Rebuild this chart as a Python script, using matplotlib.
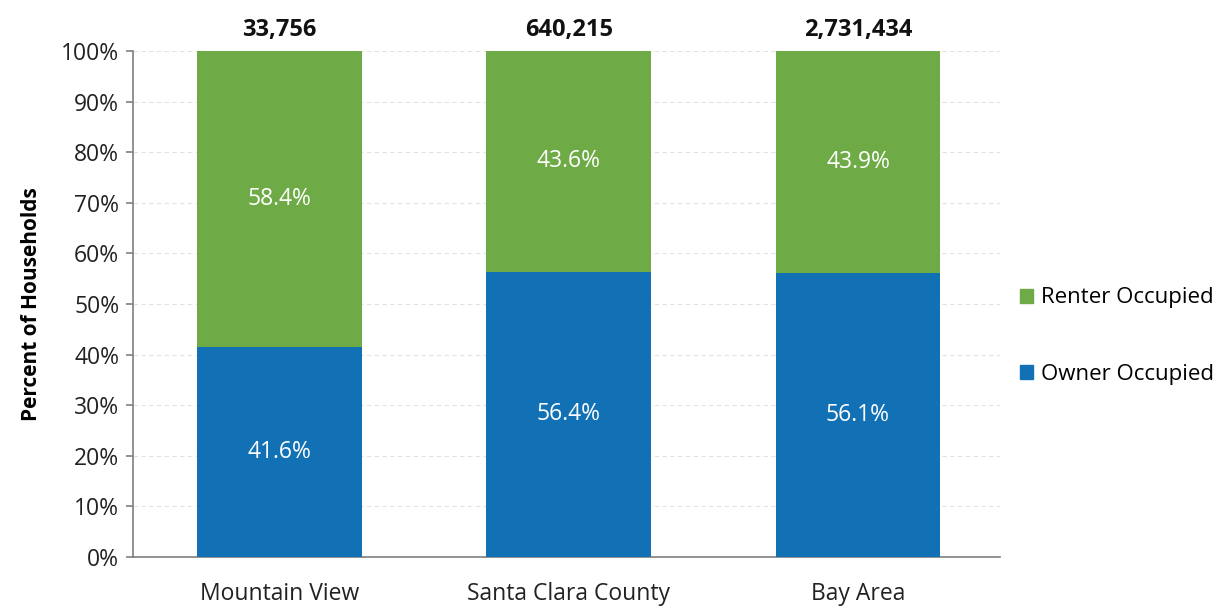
import matplotlib.pyplot as plt
from matplotlib.patches import Patch

categories = ['Mountain View', 'Santa Clara County', 'Bay Area']
owner = [41.6, 56.4, 56.1]
renter = [58.4, 43.6, 43.9]
totals = ['33,756', '640,215', '2,731,434']

BLUE = '#1271B5'
GREEN = '#6EAB46'

plt.rcParams['font.family'] = ['Open Sans', 'DejaVu Sans']

fig = plt.figure(figsize=(12.25, 6.08), dpi=100)
ax = fig.add_axes([0.1086, 0.0839, 0.7075, 0.8322])

x = range(len(categories))
ax.bar(x, owner, width=0.57, color=BLUE, zorder=3)
ax.bar(x, renter, width=0.57, bottom=owner, color=GREEN, zorder=3)

for i in x:
    ax.text(i, owner[i] / 2, '%.1f%%' % owner[i], ha='center', va='center',
            color='white', fontsize=16.5, zorder=4)
    ax.text(i, owner[i] + renter[i] / 2, '%.1f%%' % renter[i], ha='center', va='center',
            color='white', fontsize=16.5, zorder=4)
    ax.text(i, 101.8, totals[i], ha='center', va='bottom', fontsize=17,
            fontweight='bold', color='#111111')

ax.set_xlim(-0.506, 2.49)
ax.set_ylim(0, 100)
ax.set_yticks(range(0, 101, 10))
ax.set_yticklabels(['%d%%' % v for v in range(0, 101, 10)])
ax.set_xticks(list(x))
ax.set_xticklabels(categories)
ax.tick_params(axis='y', labelsize=16.5, labelcolor='#222222', color='#7f7f7f',
               length=5, width=1.2, pad=5)
ax.tick_params(axis='x', labelsize=16.5, labelcolor='#222222', length=0, pad=18)

ax.grid(axis='y', color='#e2e2e2', linestyle=(0, (4, 3)), linewidth=0.8, zorder=0)
ax.spines['top'].set_visible(False)
ax.spines['right'].set_visible(False)
ax.spines['left'].set_color('#7f7f7f')
ax.spines['bottom'].set_color('#7f7f7f')
ax.spines['left'].set_linewidth(1.2)
ax.spines['bottom'].set_linewidth(1.2)

ax.set_ylabel('Percent of Households', fontsize=15, fontweight='bold', labelpad=14)

handles = [Patch(color=GREEN), Patch(color=BLUE)]
fig.legend(handles, ['Renter Occupied', 'Owner Occupied'], loc='center left',
           bbox_to_anchor=(0.816, 0.447), frameon=False, fontsize=16,
           handlelength=0.6, handleheight=0.6, handletextpad=0.35, labelspacing=2.5)

fig.savefig('out.png', dpi=100)
